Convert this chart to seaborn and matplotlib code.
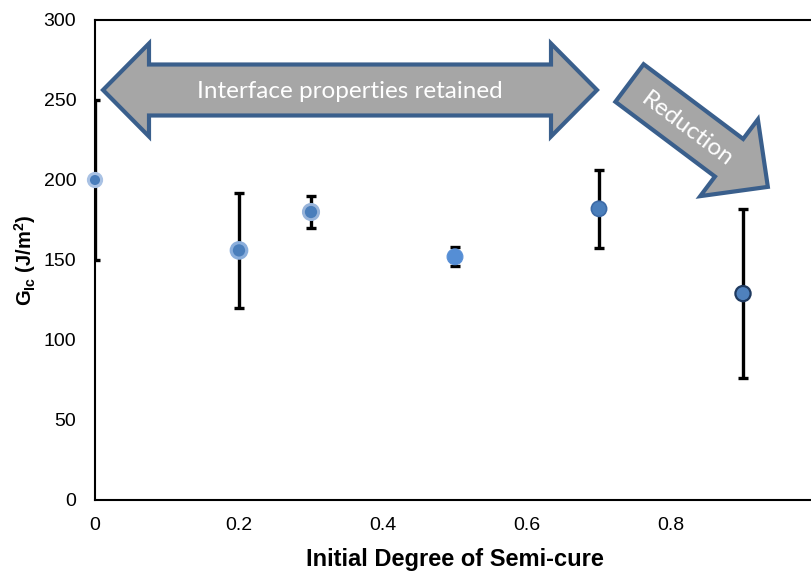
import numpy as np
import matplotlib
matplotlib.use("Agg")
import matplotlib.pyplot as plt
import matplotlib.patches as mpatches
from matplotlib.transforms import Affine2D
import pandas as pd
import seaborn as sns

# values
degree = [0.0, 0.2, 0.3, 0.5, 0.7, 0.9]
glc = [200, 156, 180, 152, 182, 129]
glc_err = [50, 36, 10, 6, 24.5, 53]
x_ticks = [0, 0.2, 0.4, 0.6, 0.8]
x_tick_labels = ["0", "0.2", "0.4", "0.6", "0.8"]
y_ticks = [0, 50, 100, 150, 200, 250, 300]

# marker look of each point (Excel-style glow / outlines)
face_cols = ["#4a7ebb", "#4a7ebb", "#4a7ebb", "#558ed5", "#4a7ebb", "#4f81bd"]
edge_cols = ["#a9c2e4", "#8aaedc", "#98b4da", "#5a90d6", "#3c6aa6", "#1f3a60"]
marker_s = [90, 125, 120, 130, 120, 120]
marker_lw = [2.2, 2.3, 2.1, 0.8, 1.2, 1.6]

df = pd.DataFrame({"degree": degree, "glc": glc, "pt": [str(i) for i in range(len(degree))]})

sns.set_theme(style="white")
plt.rcParams["font.family"] = ["Liberation Sans", "DejaVu Sans"]
plt.rcParams["mathtext.fontset"] = "custom"
plt.rcParams["mathtext.rm"] = "Liberation Sans"
plt.rcParams["mathtext.bf"] = "Liberation Sans:bold"
plt.rcParams["text.color"] = "black"
plt.rcParams["axes.labelcolor"] = "black"
plt.rcParams["xtick.color"] = "black"
plt.rcParams["ytick.color"] = "black"

W, H = 811, 571
fig = plt.figure(figsize=(W / 100, H / 100), dpi=100)
fig.patch.set_facecolor("white")
ax = fig.add_axes([95 / W, 71 / H, 720 / W, 480 / H])

ax.errorbar(degree, glc, yerr=glc_err, fmt="none", ecolor="black",
            elinewidth=2.4, capsize=3.8, capthick=2.4, zorder=2)

sns.scatterplot(data=df, x="degree", y="glc", hue="pt",
                palette=dict(zip(df["pt"], face_cols)), legend=False,
                ax=ax, zorder=3)
pts = ax.collections[-1]
pts.set_facecolors(face_cols)
pts.set_edgecolors(edge_cols)
pts.set_sizes(marker_s)
pts.set_linewidths(marker_lw)
pts.set_clip_on(False)

ax.set_xlim(0, 1)
ax.set_ylim(0, 300)
ax.set_xticks(x_ticks)
ax.set_xticklabels(x_tick_labels)
ax.set_yticks(y_ticks)
ax.tick_params(axis="x", direction="inout", length=10, width=1.3, color="black",
               labelcolor="black", labelsize=14, pad=7)
ax.tick_params(axis="y", direction="inout", length=7, width=1.3, color="black",
               labelcolor="black", labelsize=14, pad=10)
for s in ax.spines.values():
    s.set_color("black")
    s.set_linewidth(1.5)

ax.set_xlabel("Initial Degree of Semi-cure", fontsize=17, fontweight="bold", color="black")
ax.xaxis.set_label_coords(0.5, -0.1)
ax.set_ylabel(r"$\mathbf{G_{Ic}}$ $\mathbf{(J/m^2)}$", fontsize=14.5, fontweight="bold",
              color="black")
ax.yaxis.set_label_coords(-0.079, 0.5)

# annotation arrows, in pixel coordinates (y measured from top)
px = Affine2D().scale(1, -1).translate(0, H)
arrow_face = "#a6a6a6"
arrow_edge = "#3a5f8c"

# double arrow
cy = 90
body_h, head_h = 25.5, 46.5
xl, xlb, xrb, xr = 103, 149, 551, 597
dbl = [(xl, cy), (xlb, cy - head_h), (xlb, cy - body_h), (xrb, cy - body_h),
       (xrb, cy - head_h), (xr, cy), (xrb, cy + head_h), (xrb, cy + body_h),
       (xlb, cy + body_h), (xlb, cy + head_h)]
fig.add_artist(mpatches.Polygon(dbl, closed=True, facecolor=arrow_face,
                                edgecolor=arrow_edge, linewidth=3,
                                joinstyle="miter", transform=px))
fig.text(349.5, 91, "Interface properties retained", transform=px, color="white",
         fontsize=17.5, family="Lato", ha="center", va="center")

# "Reduction" arrow
tail = np.array([629.5, 83.0])
ang = np.deg2rad(36.9)
d = np.array([np.cos(ang), np.sin(ang)])
n = np.array([-d[1], d[0]])
length, bw, hw, hl = 173, 23.5, 48, 48.5
tip = tail + d * length
base = tip - d * hl
red = [tail + n * bw, base + n * bw, base + n * hw, tip,
       base - n * hw, base - n * bw, tail - n * bw]
fig.add_artist(mpatches.Polygon(red, closed=True, facecolor=arrow_face,
                                edgecolor=arrow_edge, linewidth=3,
                                joinstyle="miter", transform=px))
fig.text(687, 129, "Reduction", transform=px, color="white", fontsize=17.5,
         family="Lato", ha="center", va="center", rotation=-36.9,
         rotation_mode="anchor")

fig.savefig("out.png", dpi=100)
